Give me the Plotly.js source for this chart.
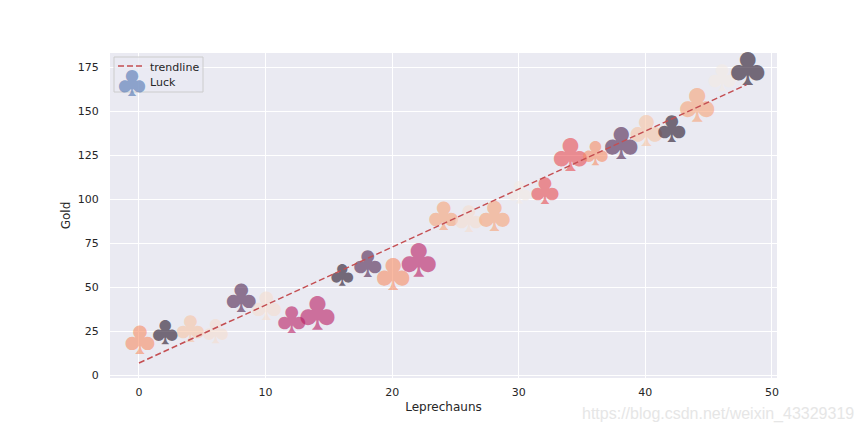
<!DOCTYPE html>
<html><head><meta charset="utf-8">
<script src="https://cdn.plot.ly/plotly-3.0.1.min.js"></script>
<style>html,body{margin:0;padding:0;background:#fff}</style></head>
<body><div id="chart" style="width:864px;height:432px"></div>
<script>
const leprechauns = [0,2,4,6,8,10,12,14,16,18,20,22,24,26,28,30,32,34,36,38,40,42,44,46,48];
const gold = [18,22,24.5,23,41.5,37,29.5,33,55,61,54.5,63,88.5,87,88,102,103,123,124,129,136.5,138,151,167,172];
const glyphSize = [33,28,31,28,33,33,31,39,25,31,37,39,33,31,35,26,31,38,28,37,36,31,39,31,38];
const dark='rgba(34,17,38,0.6)',purple='rgba(77,35,78,0.6)',pink='rgba(185,28,98,0.6)',coral='rgba(232,75,80,0.6)',
      salmon='rgba(247,140,100,0.6)',peach='rgba(247,162,118,0.6)',light='rgba(247,196,163,0.6)',pale='rgba(245,222,207,0.6)',faint='rgba(244,234,228,0.6)';
const luckColor = [salmon,dark,light,pale,purple,pale,pink,pink,dark,purple,salmon,pink,peach,pale,peach,faint,coral,coral,salmon,purple,light,dark,peach,faint,dark];
const trendX = [0,48];
const trendY = [6.8,165];
const font='"DejaVu Sans", sans-serif';
const clubFont='"Noto Sans CJK SC", "DejaVu Sans", sans-serif';
const px=v=>(v-110)/667, py=v=>(378-v)/325;
const traces=[
 {x:leprechauns,y:gold,mode:'text',text:leprechauns.map(()=> '\u200a♣'),textposition:'middle center',cliponaxis:false,
  textfont:{family:clubFont,size:glyphSize,color:luckColor},showlegend:false,hoverinfo:'x+y'},
 {x:trendX,y:trendY,mode:'lines',name:'trendline',line:{color:'#c44e52',width:1.5,dash:'6px,3px'},showlegend:false}
];
const layout={
 width:864,height:432,paper_bgcolor:'#fff',plot_bgcolor:'#eaeaf2',showlegend:false,
 margin:{l:110,r:87,t:53,b:54},font:{family:font,color:'#262626',size:11},
 xaxis:{range:[-2.29,50.4],tickvals:[0,10,20,30,40,50],showgrid:true,gridcolor:'#fff',gridwidth:1,zeroline:false,showline:false,ticks:'outside',ticklen:4,tickcolor:'rgba(0,0,0,0)',
   title:{text:'Leprechauns',font:{size:12,color:'#262626'},standoff:4},tickfont:{size:11,color:'#262626'}},
 yaxis:{range:[-1.7,183],tickvals:[0,25,50,75,100,125,150,175],showgrid:true,gridcolor:'#fff',gridwidth:1,zeroline:false,showline:false,ticks:'outside',ticklen:8,tickcolor:'rgba(0,0,0,0)',
   title:{text:'Gold',font:{size:12,color:'#262626'},standoff:4},tickfont:{size:11,color:'#262626'}},
 shapes:[
  {type:'rect',xref:'paper',yref:'paper',x0:px(114),x1:px(203),y0:py(92),y1:py(57),fillcolor:'rgba(234,234,242,0.8)',line:{color:'#cccccc',width:1}},
  {type:'line',xref:'paper',yref:'paper',x0:px(118),x1:px(143),y0:py(66),y1:py(66),line:{color:'#c44e52',width:1.5,dash:'6px,3px'}}
 ],
 annotations:[
  {xref:'paper',yref:'paper',x:px(147.5),y:py(67),text:'trendline',showarrow:false,font:{size:11,color:'#262626'},xanchor:'left',yanchor:'middle'},
  {xref:'paper',yref:'paper',x:px(147.5),y:py(82),text:'Luck',showarrow:false,font:{size:11,color:'#262626'},xanchor:'left',yanchor:'middle'},
  {xref:'paper',yref:'paper',x:px(131.5),y:py(81),text:'♣',showarrow:false,font:{family:clubFont,size:30,color:'rgba(76,114,176,0.6)'},xanchor:'center',yanchor:'middle'},
  {xref:'paper',yref:'paper',x:px(856),y:py(414),text:'https://blog.csdn.net/weixin_43329319',showarrow:false,font:{family:'"Liberation Sans", sans-serif',size:16,color:'#e6e6e6'},xanchor:'right',yanchor:'middle'}
 ]
};
Plotly.newPlot('chart',traces,layout,{displayModeBar:false});
</script></body></html>
